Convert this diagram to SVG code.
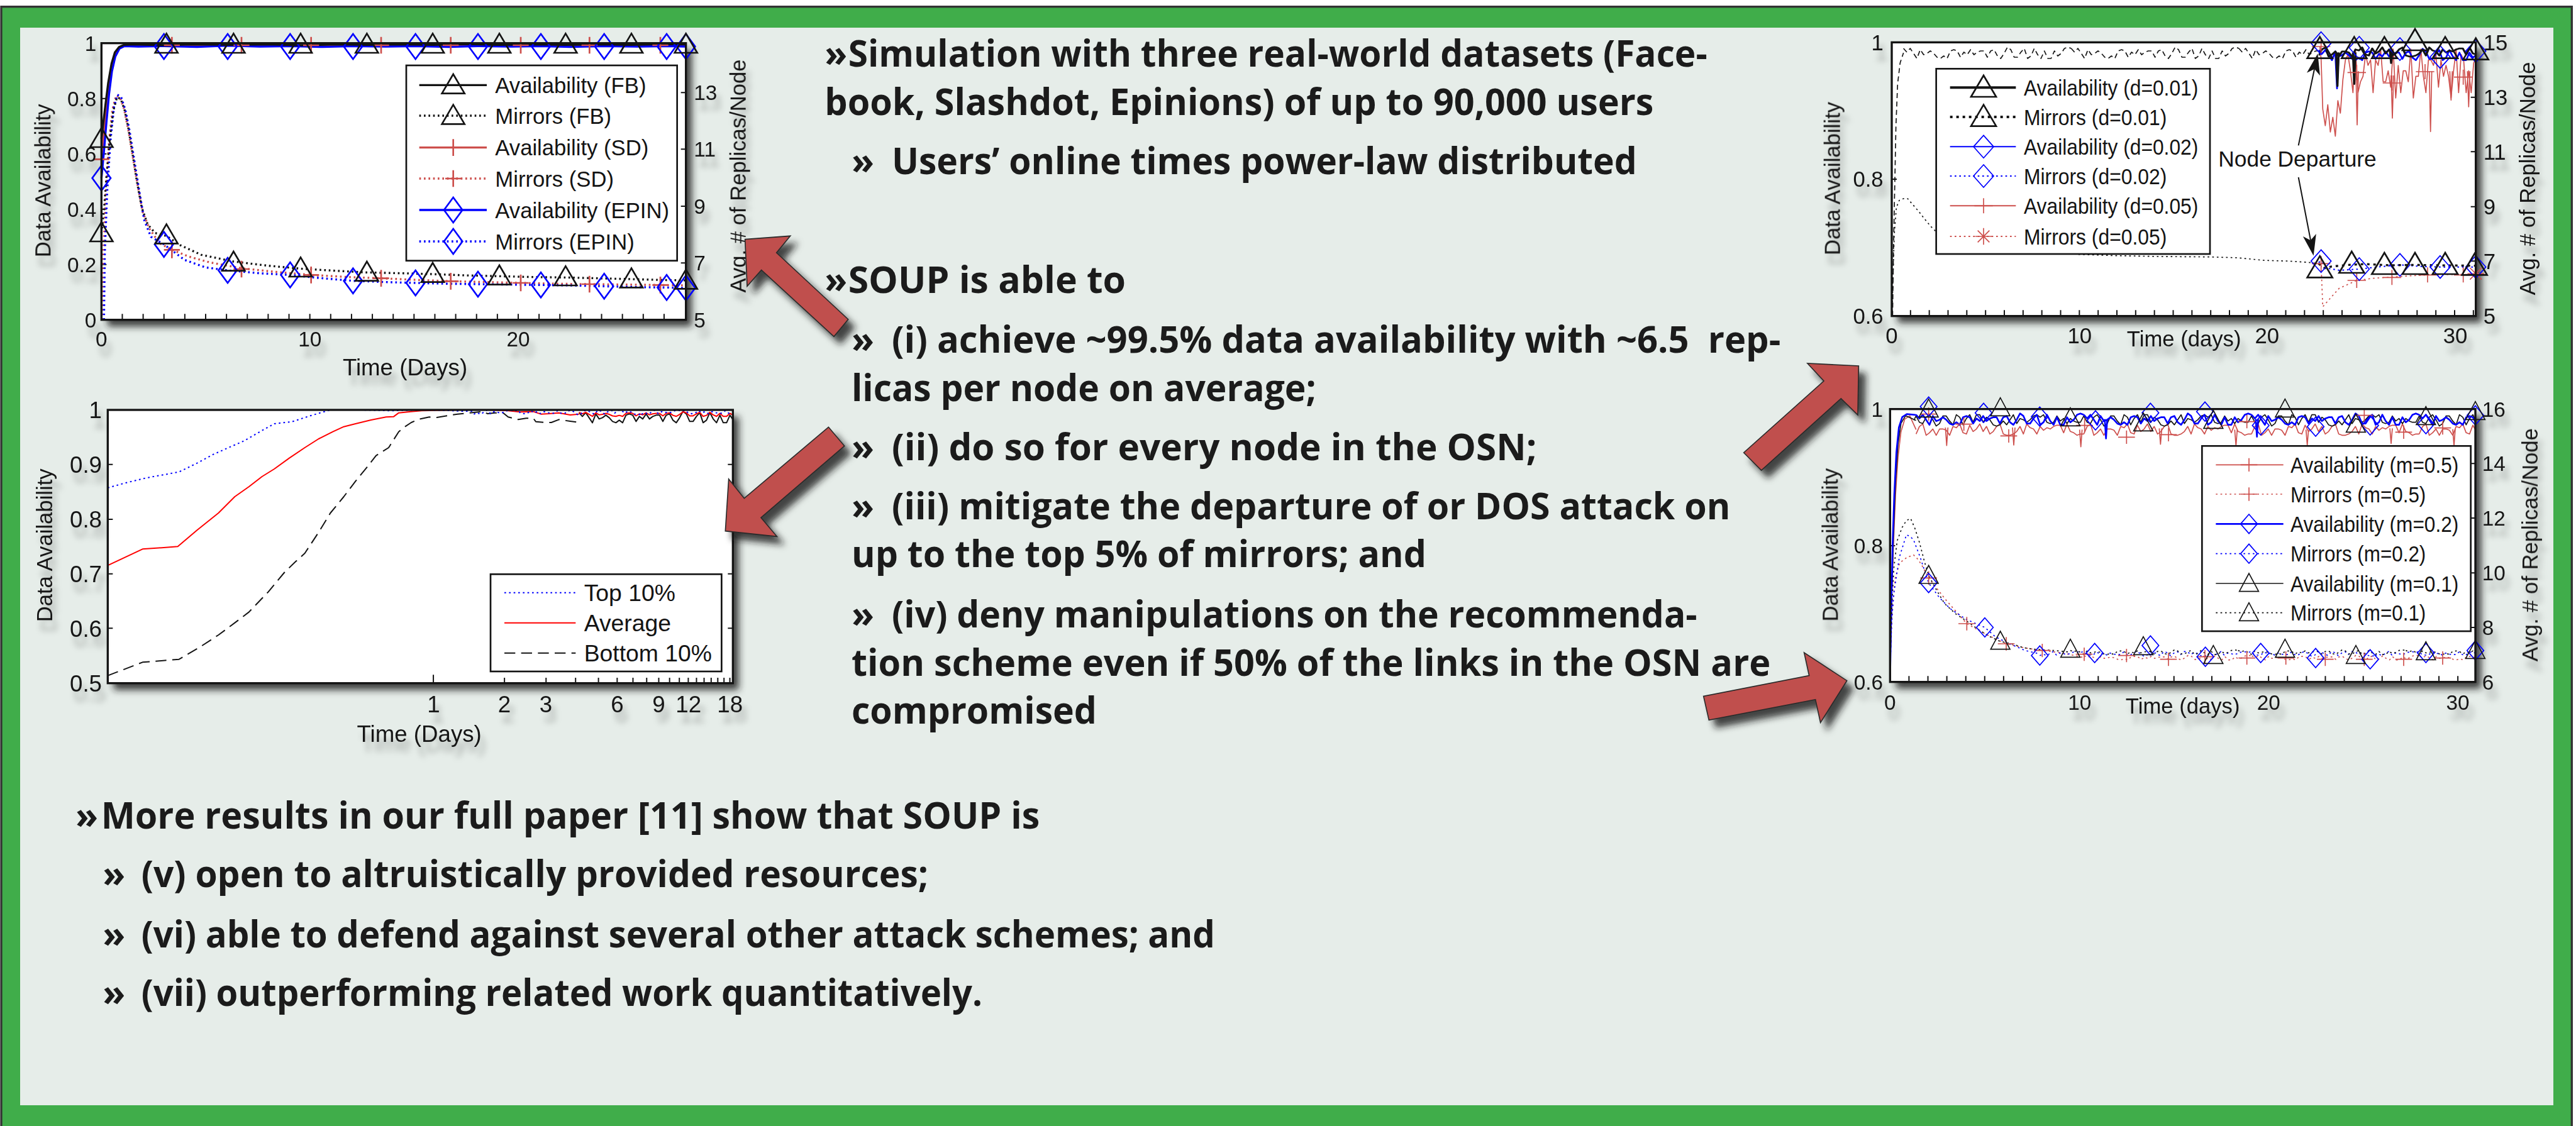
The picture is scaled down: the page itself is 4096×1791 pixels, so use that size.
<svg xmlns="http://www.w3.org/2000/svg" width="4096" height="1791" viewBox="0 0 4096 1791">
<defs>
<style>
.pt{font-family:"Liberation Sans",Arial,Helvetica,sans-serif;fill:#141414}
.t50{font-size:50px}.t52{font-size:52px}.t55{font-size:55px}.t56{font-size:56px}
.mt{font-family:"Open Sans","Liberation Sans",Arial,sans-serif;font-weight:700;font-size:88px;fill:#1b1b1b}
.box{fill:#fff}
.frame{fill:none;stroke:#141414;stroke-width:5}
.lgb{fill:#fff;stroke:#141414;stroke-width:4}
.tick{fill:none;stroke:#141414;stroke-width:3}
.ln{fill:none;stroke-linejoin:round}
.mk{fill:none;stroke-linejoin:miter}
.k{stroke:#141414}.r{stroke:#cd4f4c}.b{stroke:#0000ff}.rr{stroke:#ff0000}
.w6{stroke-width:6}.w5{stroke-width:5}.w4{stroke-width:4}.w3{stroke-width:3}.w2{stroke-width:2.5}
.dt{stroke-dasharray:4 7}.dtk{stroke-dasharray:6 9}.ds{stroke-dasharray:26 14}.ds3{stroke-dasharray:12 8}
.arrow{fill:#c0504d;stroke:#2b2b2b;stroke-width:2.5;stroke-linejoin:miter}
.ah{fill:#141414}
</style>
<filter id="bs" x="-5%" y="-5%" width="115%" height="120%"><feDropShadow dx="14" dy="16" stdDeviation="9" flood-color="#202020" flood-opacity="0.85"/></filter>
<filter id="ts" x="-5%" y="-5%" width="115%" height="120%"><feDropShadow dx="10" dy="24" stdDeviation="7" flood-color="#000" flood-opacity="0.28"/></filter>
<filter id="as" x="-20%" y="-20%" width="150%" height="150%"><feDropShadow dx="16" dy="18" stdDeviation="8" flood-color="#1a1a1a" flood-opacity="0.8"/></filter>
<clipPath id="c2"><rect x="257" y="960" width="1491" height="670"/></clipPath>
<clipPath id="c3a"><rect x="4512" y="60" width="1018" height="700"/></clipPath>
<clipPath id="c3b"><rect x="5530" y="60" width="375" height="700"/></clipPath>
<clipPath id="c4n"><rect x="4565" y="930" width="1339" height="697"/></clipPath>
<clipPath id="c4"><rect x="4508" y="976" width="1396" height="651"/></clipPath>
<path id="nzA" d="M0,-10.5 8,-1.5 16,-10.5 24,1.5 32,13.5 40,-7.5 48,4.5 56,1.5 64,-4.5 72,1.5 80,10.5 88,13.5 96,7.5 104,13.5 112,-4.5 120,-7.5 128,-4.5 136,10.5 144,-1.5 152,4.5 160,-7.5 168,4.5 176,-1.5 184,-4.5 192,-4.5 200,10.5 208,-4.5 216,-7.5 224,7.5 232,13.5 240,1.5 248,-13.5 256,-7.5 264,10.5 272,10.5 280,-1.5 288,-10.5 296,13.5 304,7.5 312,-10.5 320,4.5 328,13.5 336,-4.5 344,13.5 352,13.5 360,-4.5 368,7.5 376,1.5 384,-10.5 392,-13.5 400,-10.5"/>
<path id="nzB" d="M0,10.5 8,-7.5 16,-13.5 24,13.5 32,7.5 40,-1.5 48,13.5 56,-1.5 64,-1.5 72,1.5 80,13.5 88,-7.5 96,-4.5 104,-13.5 112,7.5 120,10.5 128,-10.5 136,4.5 144,-1.5 152,-13.5 160,4.5 168,-7.5 176,10.5 184,4.5 192,-7.5 200,-13.5 208,10.5 216,13.5 224,13.5 232,10.5 240,4.5 248,-7.5 256,10.5 264,-13.5 272,-4.5 280,-1.5 288,10.5 296,-7.5 304,1.5 312,-4.5 320,-1.5 328,-7.5 336,-10.5 344,-10.5 352,7.5 360,-13.5 368,4.5 376,7.5 384,13.5 392,10.5 400,10.5"/>
<path id="nzS" d="M0,-4.2 8,-0.6 16,-4.2 24,0.6 32,5.4 40,-3 48,1.8 56,0.6 64,-1.8 72,0.6 80,4.2 88,5.4 96,3 104,5.4 112,-1.8 120,-3 128,-1.8 136,4.2 144,-0.6 152,1.8 160,-3 168,1.8 176,-0.6 184,-1.8 192,-1.8 200,4.2 208,-1.8 216,-3 224,3 232,5.4 240,0.6 248,-5.4 256,-3 264,4.2 272,4.2 280,-0.6 288,-4.2 296,5.4 304,3 312,-4.2 320,1.8 328,5.4 336,-1.8 344,5.4 352,5.4 360,-1.8 368,3 376,0.6 384,-4.2 392,-5.4 400,-4.2"/>
<path id="tri1" d="M0,-26 L-27,20 L27,20 Z"/>
<path id="dia1" d="M0,-30 L-22,0 L0,30 L22,0 Z"/>
<path id="pl1" d="M-19,0 H19 M0,-20 V20"/>
<path id="tri3" d="M0,-29 L-30,22 L30,22 Z"/>
<path id="dia3" d="M0,-27 L-24,0 L0,27 L24,0 Z"/>
<path id="pl3" d="M-22,0 H22 M0,-18 V18"/>
<path id="ast3" d="M-20,0 H20 M0,-20 V20 M-14,-14 L14,14 M-14,14 L14,-14"/>
<path id="tri4" d="M0,-24 L-23,19 L23,19 Z"/>
<path id="dia4" d="M0,-23 L-20,0 L0,23 L20,0 Z"/>
<path id="pl4" d="M-20,0 H20 M0,-16 V16"/>
</defs>
<rect width="4096" height="1791" fill="#ffffff"/>
<g transform="scale(0.666667)">

<g id="panel">
<rect x="3" y="16" width="6131" height="2700" fill="#40ad4a" stroke="#333" stroke-width="5"/>
<rect x="48" y="66" width="6042" height="2571" fill="#e6ede9"/>
</g>

<!-- Plot 1 -->
<g id="plot-datasets">
<rect class="box" x="242" y="103" width="1394" height="660" filter="url(#bs)"/>
<path class="tick" d="M242,763h12M242,631h12M242,499h12M242,367h12M242,235h12M1636,627.5h-12M1636,492h-12M1636,356h-12M1636,221h-12M291.7,763v-14M341.4,763v-14M391.1,763v-14M440.8,763v-14M490.5,763v-14M540.2,763v-14M589.9,763v-14M639.6,763v-14M689.3,763v-14M739,763v-14M788.7,763v-14M838.4,763v-14M888.1,763v-14M937.8,763v-14M987.5,763v-14M1037.2,763v-14M1086.9,763v-14M1136.6,763v-14M1186.3,763v-14M1236,763v-14M1285.7,763v-14M1335.4,763v-14M1385.1,763v-14M1434.8,763v-14M1484.5,763v-14M1534.2,763v-14M1583.9,763v-14"/>
<polyline class="ln r w5 dt" points="244,763 246,620 252,470 260,340 268,262 277,228 286,232 296,260 306,310 316,370 328,440 340,505 356,545 380,580 410,596 450,612 500,626 576,640 650,648 742,656 830,661 909,664 1000,668 1075,671 1160,673 1242,675 1330,677 1406,678 1490,679 1575,680 1636,681"/>
<polyline class="ln b w5 dt" points="248,763 250,600 256,450 264,330 272,255 280,226 289,232 299,262 309,312 320,380 332,455 344,525 360,565 391,583 440,620 490,638 543,645 620,652 692,656 770,664 842,670 920,673 991,675 1070,677 1140,678 1220,679 1290,680 1360,681 1441,683 1520,685 1590,686 1636,687"/>
<polyline class="ln k w5 dt" points="242,556 248,500 254,420 262,330 270,265 279,232 288,236 297,262 306,305 315,360 326,430 338,495 352,535 370,556 397,563 430,585 480,608 557,624 640,634 717,641 800,646 875,650 960,652 1032,654 1110,657 1191,659 1270,661 1349,662 1430,664 1506,666 1580,668 1636,669"/>
<polyline class="ln r w5" points="242,380 250,290 258,210 266,158 274,128 284,113 296,109 330,108 410,110 500,108 576,109 660,107 742,109 830,108 909,108 1000,107 1075,109 1160,108 1242,107 1330,109 1406,108 1490,107 1575,108 1636,107"/>
<polyline class="ln b w5" points="242,425 248,360 254,290 260,225 267,170 275,135 285,116 297,110 330,111 391,110 470,112 543,109 620,111 692,110 770,112 842,110 920,111 991,110 1070,112 1140,110 1220,111 1290,110 1360,112 1441,110 1520,111 1590,110 1636,111"/>
<polyline class="ln k w5" points="242,331 250,262 258,198 266,152 274,125 284,112 296,107 320,106 397,108 450,106 557,107 640,106 717,108 800,106 875,107 960,106 1032,107 1110,105 1191,107 1270,106 1349,107 1430,106 1506,107 1580,105 1636,106"/>
<g class="mk r w4">
<use href="#pl1" x="242" y="380"/><use href="#pl1" x="410" y="108"/><use href="#pl1" x="576" y="108"/><use href="#pl1" x="742" y="108"/><use href="#pl1" x="909" y="108"/><use href="#pl1" x="1075" y="108"/><use href="#pl1" x="1242" y="108"/><use href="#pl1" x="1406" y="108"/><use href="#pl1" x="1575" y="108"/>
<use href="#pl1" x="410" y="596"/><use href="#pl1" x="576" y="642"/><use href="#pl1" x="742" y="656"/><use href="#pl1" x="909" y="664"/><use href="#pl1" x="1075" y="671"/><use href="#pl1" x="1242" y="675"/><use href="#pl1" x="1406" y="678"/><use href="#pl1" x="1575" y="680"/>
</g>
<g class="mk b w4">
<use href="#dia1" x="242" y="425"/><use href="#dia1" x="391" y="111"/><use href="#dia1" x="543" y="111"/><use href="#dia1" x="692" y="111"/><use href="#dia1" x="842" y="111"/><use href="#dia1" x="991" y="111"/><use href="#dia1" x="1140" y="111"/><use href="#dia1" x="1290" y="111"/><use href="#dia1" x="1441" y="111"/><use href="#dia1" x="1590" y="111"/><use href="#dia1" x="1636" y="111"/>
<use href="#dia1" x="391" y="583"/><use href="#dia1" x="543" y="645"/><use href="#dia1" x="692" y="656"/><use href="#dia1" x="842" y="670"/><use href="#dia1" x="991" y="675"/><use href="#dia1" x="1140" y="678"/><use href="#dia1" x="1290" y="680"/><use href="#dia1" x="1441" y="683"/><use href="#dia1" x="1590" y="686"/><use href="#dia1" x="1636" y="687"/>
</g>
<g class="mk k w4">
<use href="#tri1" x="242" y="331"/><use href="#tri1" x="397" y="106"/><use href="#tri1" x="557" y="106"/><use href="#tri1" x="717" y="106"/><use href="#tri1" x="875" y="106"/><use href="#tri1" x="1032" y="106"/><use href="#tri1" x="1191" y="106"/><use href="#tri1" x="1349" y="106"/><use href="#tri1" x="1506" y="106"/><use href="#tri1" x="1636" y="106"/>
<use href="#tri1" x="242" y="556"/><use href="#tri1" x="397" y="561"/><use href="#tri1" x="557" y="626"/><use href="#tri1" x="717" y="640"/><use href="#tri1" x="875" y="650"/><use href="#tri1" x="1032" y="653"/><use href="#tri1" x="1191" y="659"/><use href="#tri1" x="1349" y="661"/><use href="#tri1" x="1506" y="666"/><use href="#tri1" x="1636" y="669"/>
</g>
<rect class="lgb" x="969" y="156" width="646" height="466"/>
<line class="ln k w5" x1="1000" y1="203" x2="1161" y2="203"/><use class="mk k w4" href="#tri1" x="1081" y="203"/>
<line class="ln k w5 dt" x1="1000" y1="276" x2="1161" y2="276"/><use class="mk k w4" href="#tri1" x="1081" y="276"/>
<line class="ln r w5" x1="1000" y1="352" x2="1161" y2="352"/><use class="mk r w4" href="#pl1" x="1081" y="352"/>
<line class="ln r w5 dt" x1="1000" y1="426" x2="1161" y2="426"/><use class="mk r w4" href="#pl1" x="1081" y="426"/>
<line class="ln b w5" x1="1000" y1="501" x2="1161" y2="501"/><use class="mk b w4" href="#dia1" x="1081" y="501"/>
<line class="ln b w5 dt" x1="1000" y1="576" x2="1161" y2="576"/><use class="mk b w4" href="#dia1" x="1081" y="576"/>
<g class="pt t52">
<text x="1181" y="222">Availability (FB)</text>
<text x="1181" y="295">Mirrors (FB)</text>
<text x="1181" y="371">Availability (SD)</text>
<text x="1181" y="445">Mirrors (SD)</text>
<text x="1181" y="520">Availability (EPIN)</text>
<text x="1181" y="595">Mirrors (EPIN)</text>
</g>
<rect class="frame" x="242" y="103" width="1394" height="660"/>
<g class="pt t50" filter="url(#ts)">
<text x="230" y="121" text-anchor="end">1</text>
<text x="230" y="253" text-anchor="end">0.8</text>
<text x="230" y="385" text-anchor="end">0.6</text>
<text x="230" y="517" text-anchor="end">0.4</text>
<text x="230" y="649" text-anchor="end">0.2</text>
<text x="230" y="781" text-anchor="end">0</text>
<text x="1655" y="781">5</text>
<text x="1655" y="645">7</text>
<text x="1655" y="510">9</text>
<text x="1655" y="374">11</text>
<text x="1655" y="239">13</text>
<text x="242" y="827" text-anchor="middle">0</text>
<text x="739" y="827" text-anchor="middle">10</text>
<text x="1236" y="827" text-anchor="middle">20</text>
<text x="966" y="895" text-anchor="middle" class="t55">Time (Days)</text>
<text transform="translate(121,431) rotate(-90)" text-anchor="middle" class="t52">Data Availability</text>
<text transform="translate(1779,420) rotate(-90)" text-anchor="middle" class="t52">Avg. # of Replicas/Node</text>
</g>
</g>

<!-- Plot 2 -->
<g id="plot-per-node">
<rect class="box" x="257" y="978" width="1491" height="652" filter="url(#bs)"/>
<path class="tick" d="M257,1108h12M257,1239h12M257,1369h12M257,1499h12M1748,1108h-12M1748,1239h-12M1748,1369h-12M1748,1499h-12M1033.6,1630v-20M1203.2,1630v-13M1302.4,1630v-13M1372.8,1630v-13M1427.4,1630v-13M1472,1630v-13M1509.7,1630v-13M1542.4,1630v-13M1571.2,1630v-13M1597,1630v-13M1620.3,1630v-13M1641.6,1630v-13M1661.2,1630v-13M1679.3,1630v-13M1696.2,1630v-13M1712,1630v-13M1726.8,1630v-13M1740.8,1630v-13"/>
<polyline class="ln k w3 ds" points="257,1612 340,1580 427,1573 475,1545 521,1515 560,1486 594,1460 640,1412 679,1365 705,1340 727,1320 760,1270 788,1224 820,1185 848,1148 875,1115 897,1087 927,1068 951,1030 966,1018 981,1008 1000,1000 1024,995 1042,996 1091,988 1151,982 1163,987 1180,985 1200,985 1212,995 1236,1001 1255,998 1272,998 1278,1006 1300,1008 1315,1008 1333,1001 1360,1005 1381,1008"/>
<g clip-path="url(#c2)"><use class="ln k w3" href="#nzA" transform="translate(1381,995)"/></g>
<polyline class="ln rr w3" points="257,1349 340,1310 424,1304 470,1265 521,1224 560,1185 594,1161 625,1137 654,1119 690,1093 727,1068 760,1047 794,1030 820,1018 848,1011 885,1002 921,995 939,994 951,985 980,982 1006,980 1100,978 1163,978 1212,980 1240,983 1272,982 1290,988 1309,987 1333,985 1360,990 1381,988"/>
<g clip-path="url(#c2)"><use class="ln rr w3" href="#nzS" transform="translate(1381,988)"/></g>
<polyline class="ln b w3 dt" points="257,1164 300,1152 350,1140 427,1126 470,1105 509,1084 545,1068 582,1052 620,1030 654,1011 697,1006 740,992 788,978 860,978 933,980 1000,978 1060,979 1100,981 1130,981"/>
<g clip-path="url(#c2)"><use class="ln b w3 dt" href="#nzS" transform="translate(1130,984) scale(1,-1)"/><use class="ln b w3 dt" href="#nzS" transform="translate(1530,984) scale(1,-1)"/></g>
<rect class="lgb" x="1170" y="1370" width="551" height="232"/>
<line class="ln b w3 dt" x1="1203" y1="1414" x2="1373" y2="1414"/>
<line class="ln rr w3" x1="1203" y1="1486" x2="1373" y2="1486"/>
<line class="ln k w3 ds" x1="1203" y1="1558" x2="1373" y2="1558"/>
<g class="pt t56">
<text x="1393" y="1434">Top 10%</text>
<text x="1393" y="1506">Average</text>
<text x="1393" y="1578">Bottom 10%</text>
</g>
<rect class="frame" x="257" y="978" width="1491" height="652"/>
<g class="pt t55" filter="url(#ts)">
<text x="243" y="998" text-anchor="end">1</text>
<text x="243" y="1128" text-anchor="end">0.9</text>
<text x="243" y="1259" text-anchor="end">0.8</text>
<text x="243" y="1389" text-anchor="end">0.7</text>
<text x="243" y="1519" text-anchor="end">0.6</text>
<text x="243" y="1650" text-anchor="end">0.5</text>
<text x="1034" y="1700" text-anchor="middle">1</text>
<text x="1203" y="1700" text-anchor="middle">2</text>
<text x="1302" y="1700" text-anchor="middle">3</text>
<text x="1472" y="1700" text-anchor="middle">6</text>
<text x="1571" y="1700" text-anchor="middle">9</text>
<text x="1642" y="1700" text-anchor="middle">12</text>
<text x="1741" y="1700" text-anchor="middle">18</text>
<text x="1000" y="1770" text-anchor="middle">Time (Days)</text>
<text transform="translate(125,1301) rotate(-90)" text-anchor="middle" class="t52">Data Availability</text>
</g>
</g>

<!-- Plot 3 -->
<g id="plot-departure">
<rect class="box" x="4512" y="101" width="1393" height="653" filter="url(#bs)"/>
<path class="tick" d="M4512,427.5h12M5905,232h-12M5905,362h-12M5905,493h-12M5905,623h-12M4556.75,754v-14M4601.5,754v-14M4646.25,754v-14M4691,754v-14M4735.75,754v-14M4780.5,754v-14M4825.25,754v-14M4870,754v-14M4914.75,754v-14M4959.5,754v-14M5004.25,754v-14M5049,754v-14M5093.75,754v-14M5138.5,754v-14M5183.25,754v-14M5228,754v-14M5272.75,754v-14M5317.5,754v-14M5362.25,754v-14M5407,754v-14M5451.75,754v-14M5496.5,754v-14M5541.25,754v-14M5586,754v-14M5630.75,754v-14M5675.5,754v-14M5720.25,754v-14M5765,754v-14M5809.75,754v-14M5854.5,754v-14M5899.25,754v-14"/>
<polyline class="ln k w2 dt" points="4513,743 4515,660 4518,560 4523,495 4530,478 4540,474 4550,474 4562,488 4576,504 4590,522 4605,540 4618,553 4700,580 4800,595 4900,603 4960,607 5050,610 5150,612 5271,613 5337,615 5398,621 5458,623 5506,626 5530,629"/>
<polyline class="ln k w2 ds3" points="4514,754 4516,600 4519,450 4522,300 4526,200 4532,150 4540,126"/>
<g clip-path="url(#c3a)"><use class="ln k w2 ds3" href="#nzA" transform="translate(4540,126)"/><use class="ln k w2 ds3" href="#nzA" transform="translate(4940,126)"/><use class="ln k w2 ds3" href="#nzA" transform="translate(5340,126)"/></g>
<polyline class="ln r w2" points="5533,111 5536,140 5540,260 5546,300 5552,250 5558,315 5564,280 5570,325 5576,240 5582,270 5588,190 5594,143 5600,130 5606,169 5612,221 5618,117 5624,221 5630,195 5636,182 5642,130 5648,156 5654,143 5660,221 5666,143 5672,156 5678,117 5684,195 5690,195 5696,169 5702,208 5708,117 5714,234 5720,156 5726,221 5732,169 5738,169 5744,195 5750,117 5756,234 5762,182 5768,182 5774,117 5780,182 5786,221 5792,143 5798,143 5804,156 5810,130 5816,208 5822,143 5828,182 5834,156 5840,182 5846,234 5852,169 5858,117 5864,221 5870,130 5876,143 5882,221 5888,169 5894,221 5900,150 5905,140"/>
<path class="ln r w2" d="M5619,170 L5622,298 L5625,170 M5703,180 L5706,282 L5709,180 M5794,170 L5797,314 L5800,170 M5843,170 L5846,239 L5849,170 M5885,170 L5888,255 L5891,170"/>
<g clip-path="url(#c3b)"><use class="ln b w4" href="#nzA" transform="translate(5530,130)"/><use class="ln k w5" href="#nzB" transform="translate(5530,124) scale(1,0.8)"/></g>
<path class="ln b w4" d="M5570,130 L5574,211 L5578,130"/>
<path class="ln k w5" d="M5572,125 L5575,205 L5578,125 M5612,125 L5615,200 L5618,125 M5700,120 L5703,150 L5706,120"/>
<polyline class="ln r w2 dt" points="5530,629 5536,629 5540,732 5554,716 5579,688 5621,669 5660,664 5705,661 5750,658 5790,656 5830,655 5875,655 5905,653"/>
<polyline class="ln b w3 dt" points="5530,626 5536,623 5550,640 5580,645 5627,642 5680,636 5724,632 5780,636 5820,637 5905,637"/>
<polyline class="ln k w5 dtk" points="5530,629 5545,640 5560,636 5600,632 5640,630 5700,633 5760,632 5820,633 5905,634"/>
<g class="mk r w2">
<use href="#pl3" x="5536" y="111"/><use href="#pl3" x="5621" y="173"/><use href="#pl3" x="5705" y="198"/><use href="#pl3" x="5784" y="171"/><use href="#pl3" x="5875" y="184"/>
<use href="#pl3" x="5536" y="629"/><use href="#pl3" x="5621" y="669"/><use href="#pl3" x="5705" y="662"/><use href="#pl3" x="5790" y="656"/><use href="#pl3" x="5875" y="656"/><use href="#ast3" x="5905" y="653"/>
</g>
<g class="mk b w2">
<use href="#dia3" x="5536" y="103"/><use href="#dia3" x="5627" y="114"/><use href="#dia3" x="5724" y="117"/><use href="#dia3" x="5820" y="136"/><use href="#dia3" x="5905" y="122"/>
<use href="#dia3" x="5536" y="623"/><use href="#dia3" x="5627" y="642"/><use href="#dia3" x="5724" y="632"/><use href="#dia3" x="5820" y="637"/><use href="#dia3" x="5905" y="637"/>
</g>
<g class="mk k w4">
<use href="#tri3" x="5533" y="117"/><use href="#tri3" x="5615" y="117"/><use href="#tri3" x="5687" y="117"/><use href="#tri3" x="5760" y="98"/><use href="#tri3" x="5832" y="117"/><use href="#tri3" x="5905" y="120"/>
<use href="#tri3" x="5533" y="640"/><use href="#tri3" x="5609" y="629"/><use href="#tri3" x="5687" y="632"/><use href="#tri3" x="5760" y="632"/><use href="#tri3" x="5832" y="632"/><use href="#tri3" x="5902" y="634"/>
</g>
<rect class="lgb" x="4618" y="164" width="653" height="442"/>
<line class="ln k w6" x1="4651" y1="209" x2="4808" y2="209"/><use class="mk k w4" href="#tri3" x="4731" y="209"/>
<line class="ln k w6 dtk" x1="4651" y1="279" x2="4808" y2="279"/><use class="mk k w4" href="#tri3" x="4731" y="279"/>
<line class="ln b w3" x1="4651" y1="350" x2="4808" y2="350"/><use class="mk b w2" href="#dia3" x="4731" y="350"/>
<line class="ln b w3 dt" x1="4651" y1="420" x2="4808" y2="420"/><use class="mk b w2" href="#dia3" x="4731" y="420"/>
<line class="ln r w3" x1="4651" y1="491" x2="4808" y2="491"/><use class="mk r w2" href="#pl3" x="4731" y="491"/>
<line class="ln r w3 dt" x1="4651" y1="564" x2="4808" y2="564"/><use class="mk r w2" href="#ast3" x="4731" y="564"/>
<g class="pt t52">
<text x="4827" y="228" textLength="416" lengthAdjust="spacingAndGlyphs">Availability (d=0.01)</text>
<text x="4827" y="298" textLength="341" lengthAdjust="spacingAndGlyphs">Mirrors (d=0.01)</text>
<text x="4827" y="369" textLength="416" lengthAdjust="spacingAndGlyphs">Availability (d=0.02)</text>
<text x="4827" y="439" textLength="341" lengthAdjust="spacingAndGlyphs">Mirrors (d=0.02)</text>
<text x="4827" y="510" textLength="416" lengthAdjust="spacingAndGlyphs">Availability (d=0.05)</text>
<text x="4827" y="583" textLength="341" lengthAdjust="spacingAndGlyphs">Mirrors (d=0.05)</text>
<text x="5291" y="398" style="font-size:53px">Node Departure</text>
</g>
<path class="ln k w3" d="M5482,347 L5520,165 M5482,423 L5511,573"/>
<polygon class="ah" points="5528,128 5533.4,180.2 5520.3,164.7 5502,173.6"/>
<polygon class="ah" points="5518,610 5524.2,557.9 5510.9,573.2 5492.8,563.9"/>
<rect class="frame" x="4512" y="101" width="1393" height="653"/>
<g class="pt t52" filter="url(#ts)">
<text x="4492" y="120" text-anchor="end">1</text>
<text x="4492" y="446" text-anchor="end">0.8</text>
<text x="4492" y="773" text-anchor="end">0.6</text>
<text x="5923" y="120">15</text>
<text x="5923" y="251">13</text>
<text x="5923" y="381">11</text>
<text x="5923" y="512">9</text>
<text x="5923" y="642">7</text>
<text x="5923" y="773">5</text>
<text x="4512" y="819" text-anchor="middle">0</text>
<text x="4960" y="819" text-anchor="middle">10</text>
<text x="5407" y="819" text-anchor="middle">20</text>
<text x="5856" y="819" text-anchor="middle">30</text>
<text x="5209" y="827" text-anchor="middle">Time (days)</text>
<text transform="translate(4389,426) rotate(-90)" text-anchor="middle">Data Availability</text>
<text transform="translate(6047,426) rotate(-90)" text-anchor="middle">Avg. # of Replicas/Node</text>
</g>
</g>

<!-- Plot 4 -->
<g id="plot-manipulation">
<rect class="box" x="4508" y="976" width="1396" height="651" filter="url(#bs)"/>
<path class="tick" d="M4508,1302h12M5904,1497h-12M5904,1367h-12M5904,1236h-12M5904,1106h-12M4553.1,1627v-14M4598.3,1627v-14M4643.4,1627v-14M4688.6,1627v-14M4733.7,1627v-14M4778.8,1627v-14M4824,1627v-14M4869.1,1627v-14M4914.3,1627v-14M4959.4,1627v-14M5004.5,1627v-14M5049.7,1627v-14M5094.8,1627v-14M5140,1627v-14M5185.1,1627v-14M5230.2,1627v-14M5275.4,1627v-14M5320.5,1627v-14M5365.7,1627v-14M5410.8,1627v-14M5455.9,1627v-14M5501.1,1627v-14M5546.2,1627v-14M5591.4,1627v-14M5636.5,1627v-14M5681.6,1627v-14M5726.8,1627v-14M5771.9,1627v-14M5817.1,1627v-14M5862.2,1627v-14"/>
<polyline class="ln r w2" points="4508,1560 4512,1420 4516,1300 4521,1180 4527,1090 4534,1030 4543,1000 4555,992 4570,1025"/>
<g clip-path="url(#c4n)"><use class="ln r w2" href="#nzB" transform="translate(4570,1025)"/><use class="ln r w2" href="#nzB" transform="translate(4970,1025)"/><use class="ln r w2" href="#nzB" transform="translate(5370,1025)"/><use class="ln r w2" href="#nzB" transform="translate(5770,1025)"/></g>
<path class="ln r w2" d="M4640,1020 L4643,1063 L4646,1020 M4800,1020 L4803,1062 L4806,1020 M4960,1025 L4963,1066 L4966,1025 M5150,1022 L5153,1060 L5156,1022 M5330,1025 L5333,1064 L5336,1025 M5500,1025 L5503,1062 L5506,1025 M5700,1022 L5703,1058 L5706,1022 M5850,1024 L5853,1063 L5856,1024"/>
<polyline class="ln k w2" points="4508,1610 4512,1420 4516,1280 4521,1150 4527,1060 4534,1010 4545,992 4570,1003"/>
<g clip-path="url(#c4n)"><use class="ln k w2" href="#nzA" transform="translate(4370,1003) scale(1,-1)"/><use class="ln k w2" href="#nzA" transform="translate(4770,1003) scale(1,-1)"/><use class="ln k w2" href="#nzA" transform="translate(5170,1003) scale(1,-1)"/><use class="ln k w2" href="#nzA" transform="translate(5570,1003) scale(1,-1)"/></g>
<polyline class="ln b w4" points="4508,1620 4511,1450 4514,1300 4518,1180 4523,1080 4529,1020 4537,995 4548,988 4570,990"/>
<g clip-path="url(#c4n)"><use class="ln b w4" href="#nzA" transform="translate(4570,1000)"/><use class="ln b w4" href="#nzA" transform="translate(4970,1000)"/><use class="ln b w4" href="#nzA" transform="translate(5370,1000)"/><use class="ln b w4" href="#nzA" transform="translate(5770,1000)"/></g>
<path class="ln b w4" d="M5020,1000 L5023,1046 L5026,1000 M5380,1000 L5383,1042 L5386,1000"/>
<polyline class="ln r w2 dt" points="4508,1567 4514,1450 4520,1380 4531,1343 4548,1330 4564,1324 4575,1335 4584,1349 4600,1379 4640,1430 4691,1488 4740,1515 4785,1536 4830,1546 4871,1552 4920,1558 4971,1569"/>
<g clip-path="url(#c4)"><use class="ln r w2 dt" href="#nzS" transform="translate(4971,1569)"/><use class="ln r w2 dt" href="#nzS" transform="translate(5371,1569)"/><use class="ln r w2 dt" href="#nzS" transform="translate(5771,1569)"/></g>
<polyline class="ln b w2 dt" points="4508,1600 4512,1480 4517,1415 4530,1330 4547,1276 4556,1280 4564,1288 4580,1330 4600,1391 4625,1425 4651,1452 4690,1478 4734,1497 4760,1520 4798,1538 4830,1552 4865,1560"/>
<g clip-path="url(#c4)"><use class="ln b w2 dt" href="#nzS" transform="translate(4865,1560) scale(1,-1)"/><use class="ln b w2 dt" href="#nzS" transform="translate(5265,1560) scale(1,-1)"/><use class="ln b w2 dt" href="#nzS" transform="translate(5665,1560) scale(1,-1)"/></g>
<polyline class="ln k w2 dt" points="4508,1597 4512,1450 4517,1355 4525,1290 4537,1258 4547,1242 4557,1237 4567,1260 4578,1294 4590,1340 4600,1373 4620,1410 4638,1440 4665,1465 4691,1482 4720,1503 4744,1518 4770,1530 4798,1536 4825,1545 4851,1549 4900,1552 4938,1556"/>
<g clip-path="url(#c4)"><use class="ln k w2 dt" href="#nzS" transform="translate(4938,1556)"/><use class="ln k w2 dt" href="#nzS" transform="translate(5338,1556)"/><use class="ln k w2 dt" href="#nzS" transform="translate(5738,1556)"/></g>
<g class="mk r w2">
<use href="#pl4" x="4600" y="988"/><use href="#pl4" x="4684" y="1012"/><use href="#pl4" x="4791" y="1040"/><use href="#pl4" x="4972" y="1015"/><use href="#pl4" x="5072" y="1043"/><use href="#pl4" x="5172" y="1037"/><use href="#pl4" x="5359" y="1006"/><use href="#pl4" x="5639" y="991"/><use href="#pl4" x="5733" y="1031"/><use href="#pl4" x="5826" y="1021"/>
<use href="#pl4" x="4600" y="1379"/><use href="#pl4" x="4691" y="1488"/><use href="#pl4" x="4785" y="1536"/><use href="#pl4" x="4871" y="1552"/><use href="#pl4" x="4971" y="1561"/><use href="#pl4" x="5072" y="1564"/><use href="#pl4" x="5172" y="1573"/><use href="#pl4" x="5259" y="1567"/><use href="#pl4" x="5359" y="1570"/><use href="#pl4" x="5452" y="1570"/><use href="#pl4" x="5546" y="1573"/><use href="#pl4" x="5639" y="1573"/><use href="#pl4" x="5733" y="1573"/><use href="#pl4" x="5826" y="1570"/>
</g>
<g class="mk b w2">
<use href="#dia4" x="4600" y="970"/><use href="#dia4" x="4731" y="985"/><use href="#dia4" x="4865" y="994"/><use href="#dia4" x="4998" y="1003"/><use href="#dia4" x="5129" y="985"/><use href="#dia4" x="5259" y="982"/><use href="#dia4" x="5392" y="1015"/><use href="#dia4" x="5523" y="1018"/><use href="#dia4" x="5653" y="1015"/><use href="#dia4" x="5786" y="1012"/><use href="#dia4" x="5904" y="991"/>
<use href="#dia4" x="4600" y="1391"/><use href="#dia4" x="4734" y="1497"/><use href="#dia4" x="4865" y="1564"/><use href="#dia4" x="4996" y="1558"/><use href="#dia4" x="5129" y="1540"/><use href="#dia4" x="5260" y="1567"/><use href="#dia4" x="5392" y="1558"/><use href="#dia4" x="5523" y="1570"/><use href="#dia4" x="5653" y="1573"/><use href="#dia4" x="5786" y="1558"/><use href="#dia4" x="5904" y="1552"/>
</g>
<g class="mk k w2">
<use href="#tri4" x="4600" y="976"/><use href="#tri4" x="4771" y="973"/><use href="#tri4" x="4938" y="997"/><use href="#tri4" x="5112" y="1009"/><use href="#tri4" x="5279" y="1003"/><use href="#tri4" x="5450" y="976"/><use href="#tri4" x="5619" y="1012"/><use href="#tri4" x="5786" y="994"/><use href="#tri4" x="5904" y="982"/>
<use href="#tri4" x="4600" y="1373"/><use href="#tri4" x="4771" y="1530"/><use href="#tri4" x="4938" y="1549"/><use href="#tri4" x="5112" y="1543"/><use href="#tri4" x="5279" y="1564"/><use href="#tri4" x="5450" y="1549"/><use href="#tri4" x="5619" y="1564"/><use href="#tri4" x="5786" y="1555"/><use href="#tri4" x="5904" y="1552"/>
</g>
<rect class="lgb" x="5252" y="1064" width="641" height="442"/>
<line class="ln r w2" x1="5285" y1="1109" x2="5446" y2="1109"/><use class="mk r w2" href="#pl4" x="5364" y="1109"/>
<line class="ln r w2 dt" x1="5285" y1="1179" x2="5446" y2="1179"/><use class="mk r w2" href="#pl4" x="5364" y="1179"/>
<line class="ln b w4" x1="5285" y1="1250" x2="5446" y2="1250"/><use class="mk b w2" href="#dia4" x="5364" y="1250"/>
<line class="ln b w2 dt" x1="5285" y1="1321" x2="5446" y2="1321"/><use class="mk b w2" href="#dia4" x="5364" y="1321"/>
<line class="ln k w2" x1="5285" y1="1392" x2="5446" y2="1392"/><use class="mk k w2" href="#tri4" x="5364" y="1392"/>
<line class="ln k w2 dt" x1="5285" y1="1462" x2="5446" y2="1462"/><use class="mk k w2" href="#tri4" x="5364" y="1462"/>
<g class="pt t52">
<text x="5463" y="1128" textLength="401" lengthAdjust="spacingAndGlyphs">Availability (m=0.5)</text>
<text x="5463" y="1198" textLength="323" lengthAdjust="spacingAndGlyphs">Mirrors (m=0.5)</text>
<text x="5463" y="1269" textLength="401" lengthAdjust="spacingAndGlyphs">Availability (m=0.2)</text>
<text x="5463" y="1340" textLength="323" lengthAdjust="spacingAndGlyphs">Mirrors (m=0.2)</text>
<text x="5463" y="1411" textLength="401" lengthAdjust="spacingAndGlyphs">Availability (m=0.1)</text>
<text x="5463" y="1481" textLength="323" lengthAdjust="spacingAndGlyphs">Mirrors (m=0.1)</text>
</g>
<rect class="frame" x="4508" y="976" width="1396" height="651"/>
<g class="pt t50" filter="url(#ts)">
<text x="4491" y="994" text-anchor="end">1</text>
<text x="4491" y="1320" text-anchor="end">0.8</text>
<text x="4491" y="1645" text-anchor="end">0.6</text>
<text x="5920" y="994">16</text>
<text x="5920" y="1124">14</text>
<text x="5920" y="1254">12</text>
<text x="5920" y="1385">10</text>
<text x="5920" y="1515">8</text>
<text x="5920" y="1645">6</text>
<text x="4508" y="1694" text-anchor="middle">0</text>
<text x="4960" y="1694" text-anchor="middle">10</text>
<text x="5411" y="1694" text-anchor="middle">20</text>
<text x="5862" y="1694" text-anchor="middle">30</text>
<text x="5206" y="1703" text-anchor="middle" class="t52">Time (days)</text>
<text transform="translate(4384,1300) rotate(-90)" text-anchor="middle" class="t52">Data Availability</text>
<text transform="translate(6053,1300) rotate(-90)" text-anchor="middle" class="t52">Avg. # of Replicas/Node</text>
</g>
</g>

<!-- Text blocks -->
<g id="text-simulation" class="mt">
<text x="1967" y="159">»</text>
<text x="2023" y="159" textLength="2049" lengthAdjust="spacingAndGlyphs">Simulation with three real-world datasets (Face-</text>
<text x="1967" y="274" textLength="1977" lengthAdjust="spacingAndGlyphs">book, Slashdot, Epinions) of up to 90,000 users</text>
<text x="2031" y="416">»</text>
<text x="2127" y="416" textLength="1777" lengthAdjust="spacingAndGlyphs">Users’ online times power-law distributed</text>
</g>
<g id="text-soup" class="mt">
<text x="1967" y="699">»</text>
<text x="2023" y="699" textLength="662" lengthAdjust="spacingAndGlyphs">SOUP is able to</text>
<text x="2031" y="842">»</text>
<text x="2127" y="842" textLength="2120" lengthAdjust="spacingAndGlyphs" xml:space="preserve">(i) achieve ~99.5% data availability with ~6.5  rep-</text>
<text x="2031" y="957" textLength="1108" lengthAdjust="spacingAndGlyphs">licas per node on average;</text>
<text x="2031" y="1098">»</text>
<text x="2127" y="1098" textLength="1538" lengthAdjust="spacingAndGlyphs">(ii) do so for every node in the OSN;</text>
<text x="2031" y="1239">»</text>
<text x="2127" y="1239" textLength="2000" lengthAdjust="spacingAndGlyphs">(iii) mitigate the departure of or DOS attack on</text>
<text x="2031" y="1353" textLength="1371" lengthAdjust="spacingAndGlyphs">up to the top 5% of mirrors; and</text>
<text x="2031" y="1497">»</text>
<text x="2127" y="1497" textLength="1921" lengthAdjust="spacingAndGlyphs">(iv) deny manipulations on the recommenda-</text>
<text x="2031" y="1612" textLength="2192" lengthAdjust="spacingAndGlyphs">tion scheme even if 50% of the links in the OSN are</text>
<text x="2031" y="1727" textLength="585" lengthAdjust="spacingAndGlyphs">compromised</text>
</g>
<g id="text-more" class="mt">
<text x="180" y="1977">»</text>
<text x="241" y="1977" textLength="2239" lengthAdjust="spacingAndGlyphs">More results in our full paper [11] show that SOUP is</text>
<text x="245" y="2117">»</text>
<text x="337" y="2117" textLength="1877" lengthAdjust="spacingAndGlyphs">(v) open to altruistically provided resources;</text>
<text x="245" y="2261">»</text>
<text x="337" y="2261" textLength="2561" lengthAdjust="spacingAndGlyphs">(vi) able to defend against several other attack schemes; and</text>
<text x="245" y="2400">»</text>
<text x="337" y="2400" textLength="2006" lengthAdjust="spacingAndGlyphs">(vii) outperforming related work quantitatively.</text>
</g>

<!-- Connectors -->
<g id="connectors" filter="url(#as)">
<polygon class="arrow" points="1777,571 1885,563 1852,603 2023,762 1989,803 1816,644 1782,683"/>
<polygon class="arrow" points="1976,1019 2014,1064 1815,1235 1853,1280 1730,1267 1738,1143 1775,1189"/>
<polygon class="arrow" points="4159,1080 4201,1122 4391,951 4431,990 4433,873 4311,867 4350,909"/>
<polygon class="arrow" points="4063,1661 4076,1718 4330,1669 4342,1724 4405,1624 4303,1557 4315,1612"/>
</g>
</g>
</svg>
